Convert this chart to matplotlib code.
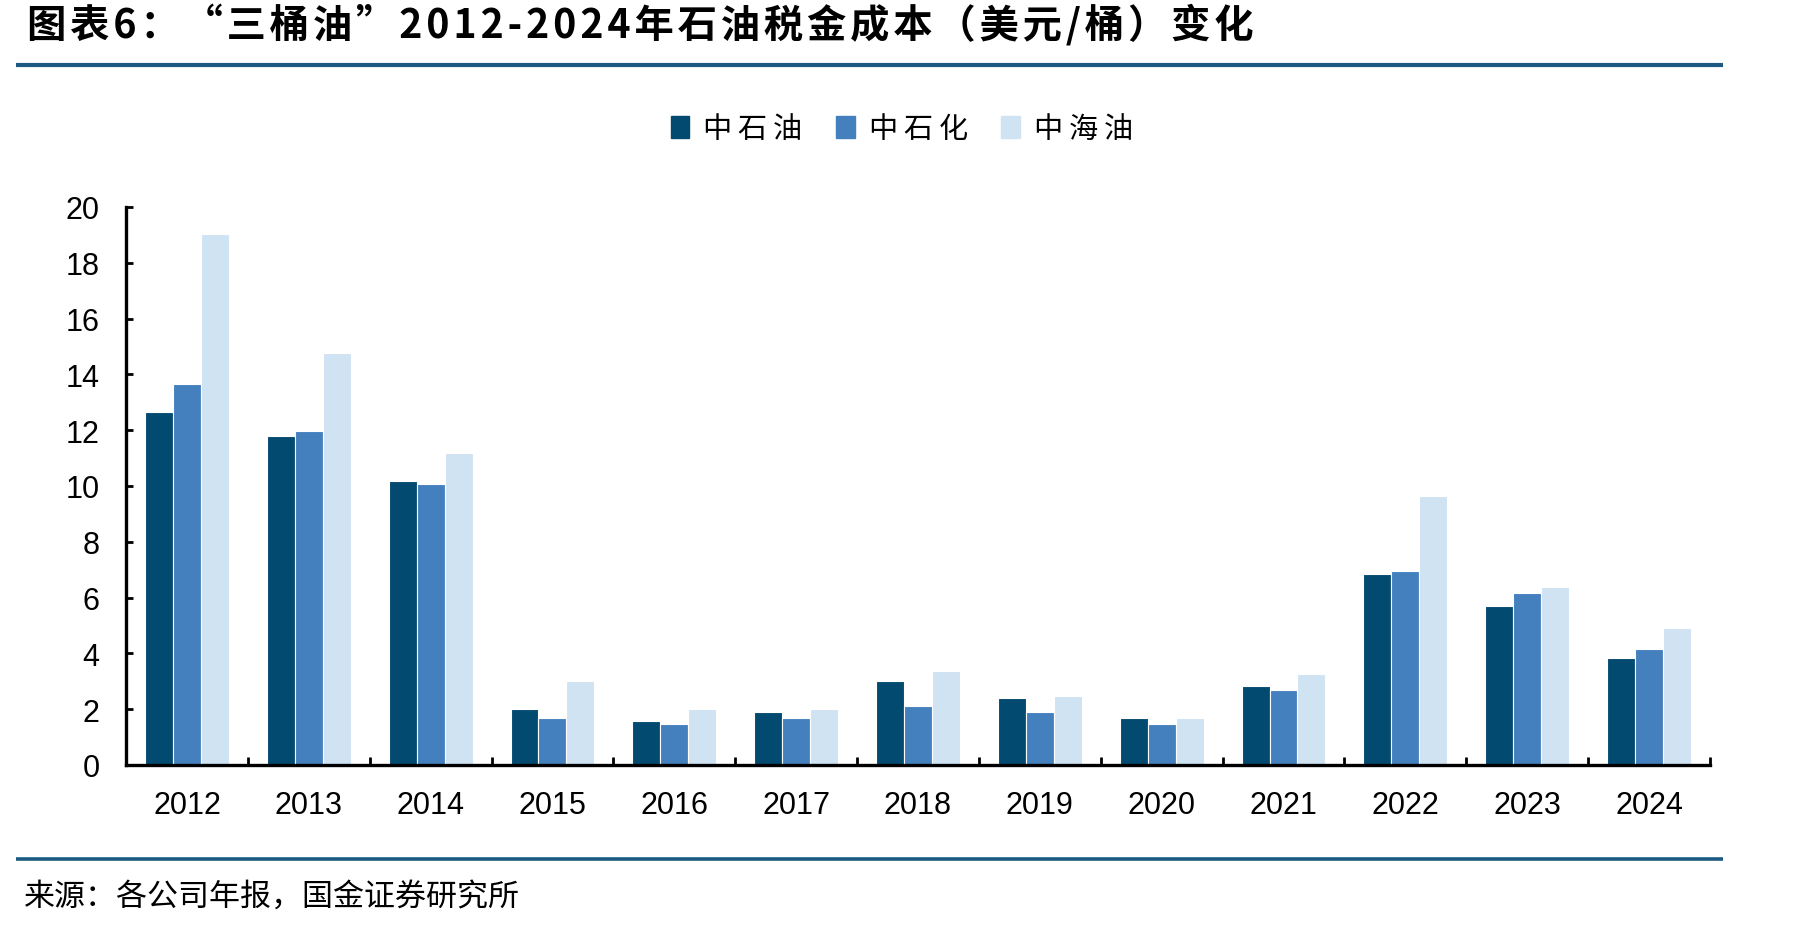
import matplotlib
matplotlib.use("Agg")
import matplotlib.pyplot as plt
from matplotlib.lines import Line2D
import numpy as np

years = ["2012", "2013", "2014", "2015", "2016", "2017", "2018",
         "2019", "2020", "2021", "2022", "2023", "2024"]
petrochina = [12.65, 11.78, 10.18, 2.02, 1.59, 1.91, 3.02, 2.39, 1.70, 2.82, 6.86, 5.71, 3.82]
sinopec = [13.66, 11.97, 10.08, 1.70, 1.47, 1.70, 2.13, 1.91, 1.48, 2.70, 6.95, 6.18, 4.17]
cnooc = [19.03, 14.77, 11.18, 3.02, 2.02, 2.02, 3.38, 2.48, 1.70, 3.26, 9.65, 6.39, 4.91]
series_names = ["中石油", "中石化", "中海油"]
colors = ["#034a70", "#4380bd", "#d0e3f3"]
yticks = [0, 2, 4, 6, 8, 10, 12, 14, 16, 18, 20]

title = "图表6：“三桶油”2012-2024年石油税金成本（美元/桶）变化"
source = "来源：各公司年报，国金证券研究所"

CJK = ["Noto Sans CJK SC", "DejaVu Sans"]
NUM = ["Liberation Sans", "DejaVu Sans"]
thin = "\u2009"
hair = "\u200a"

fig = plt.figure(figsize=(18.11, 9.28), dpi=100)
ax = fig.add_axes([0.0696, 0.1746, 0.8746, 0.6013])

x = np.arange(len(years))
w = 0.2295
for j, (vals, name, c) in enumerate(zip([petrochina, sinopec, cnooc], series_names, colors)):
    ax.bar(x + (j - 1) * w, vals, width=w, color=c, edgecolor="white",
           linewidth=0.8, label=name, zorder=2)

ax.set_xlim(-0.5, len(years) - 0.5)
ax.set_ylim(0, 20)
ax.set_yticks(yticks)
ax.set_yticklabels([str(v) for v in yticks], fontfamily=NUM, fontsize=22)
ax.set_xticks(x)
ax.set_xticklabels(years, fontfamily=NUM, fontsize=22)
ax.set_xticks(np.arange(-0.5, len(years)), minor=True)

for s in ["top", "right"]:
    ax.spines[s].set_visible(False)
for s in ["left", "bottom"]:
    ax.spines[s].set_linewidth(2.4)
    ax.spines[s].set_color("black")
    ax.spines[s].set_zorder(3)

ax.tick_params(axis="y", direction="in", length=5, width=2, pad=19, colors="black")
ax.tick_params(axis="x", which="major", length=0, pad=18)
ax.tick_params(axis="x", which="minor", direction="in", length=6, width=2)

handles = [plt.Rectangle((0, 0), 1, 1, color=c) for c in colors]
labels = [thin.join(list(n)) for n in series_names]
fig.legend(handles, labels, loc="center", bbox_to_anchor=(0.498, 0.86), ncol=3,
           frameon=False, prop={"family": CJK, "size": 21},
           handlelength=0.65, handleheight=0.76, handletextpad=0.48,
           columnspacing=1.14, borderpad=0)

fig.text(0.015, 0.971, hair.join(list(title)), fontfamily=CJK, fontsize=28.3,
         fontweight="bold", ha="left", va="center", color="black")
fig.add_artist(Line2D([0.0088, 0.9515], [0.9289, 0.9289], transform=fig.transFigure,
                      color="#1c5a82", linewidth=3, solid_capstyle="butt"))
fig.add_artist(Line2D([0.0088, 0.9515], [0.0733, 0.0733], transform=fig.transFigure,
                      color="#1c5a82", linewidth=2.6, solid_capstyle="butt"))
fig.text(0.0133, 0.0334, source, fontfamily=CJK, fontsize=22.3,
         ha="left", va="center", color="black")

fig.savefig("out.png", dpi=100, facecolor="white")
